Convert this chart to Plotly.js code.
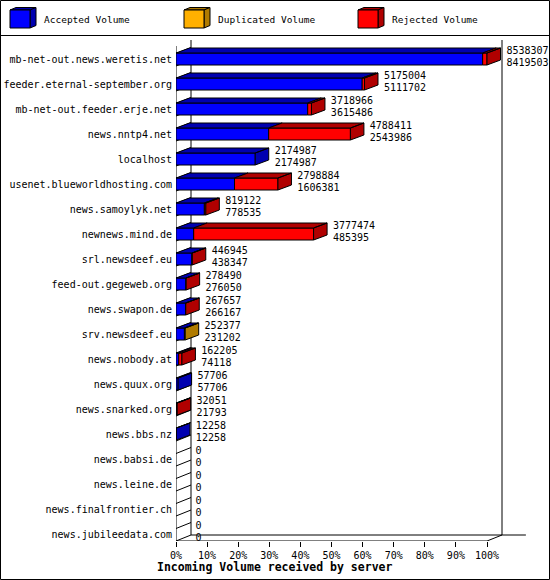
<!DOCTYPE html>
<html>
<head>
<meta charset="utf-8">
<script src="https://cdn.plot.ly/plotly-3.0.1.min.js"></script>
<style>
  body { margin: 0; padding: 0; background: #fff; }
  #chart { width: 550px; height: 580px; }
</style>
</head>
<body>
<div id="chart"></div>
<script>
// Chart data
var servers = [
  "mb-net-out.news.weretis.net", "feeder.eternal-september.org", "mb-net-out.feeder.erje.net",
  "news.nntp4.net", "localhost", "usenet.blueworldhosting.com", "news.samoylyk.net",
  "newnews.mind.de", "srl.newsdeef.eu", "feed-out.gegeweb.org", "news.swapon.de",
  "srv.newsdeef.eu", "news.nobody.at", "news.quux.org", "news.snarked.org", "news.bbs.nz",
  "news.babsi.de", "news.leine.de", "news.finalfrontier.ch", "news.jubileedata.com"
];
var accepted_data = [8419503, 5111702, 3615486, 2543986, 2174987, 1606381, 778535, 485395,
  438347, 276050, 266167, 231202, 74118, 57706, 21793, 12258, 0, 0, 0, 0];
var duplicated_data = [0, 0, 0, 0, 0, 0, 0, 0, 0, 0, 0, 21175, 0, 0, 0, 0, 0, 0, 0, 0];
var rejected_data = [118804, 63302, 103480, 2244425, 0, 1192503, 40587, 3292079,
  8598, 2440, 1490, 0, 88087, 0, 10258, 0, 0, 0, 0, 0];
var series_names = ["Accepted Volume", "Duplicated Volume", "Rejected Volume"];
var series_colors = ["#0000ff", "#ffb000", "#ff0000"];
var series_dark = ["#0000b0", "#b07b00", "#b00000"];
var x_ticks = [0, 10, 20, 30, 40, 50, 60, 70, 80, 90, 100];

// Page geometry (pixels)
var ML = 176, MT = 36, PW = 370, PH = 505;
var X_PX = 3.11;       // pixels per percent
var Y_PX = 25;         // pixels per category
var BAR_DX = 13.5 / X_PX, BAR_DY = 5 / Y_PX;
var WALL_DX = 15 / X_PX, WALL_DY = 6 / Y_PX;
var HALF = 0.24;
var FLOOR = 19.28;

function px(x) { return (x - ML) / PW; }
function py(y) { return 1 - (y - MT) / PH; }

var series = [accepted_data, duplicated_data, rejected_data];
var totals = servers.map((s, i) => accepted_data[i] + duplicated_data[i] + rejected_data[i]);
var maxTotal = Math.max.apply(null, totals);
var yIdx = servers.map((s, i) => i);

var traces = [];

// front faces (bars)
var bases = servers.map(() => 0);
series.forEach((arr, k) => {
  var xs = [], b = [];
  arr.forEach((v, i) => {
    var p = v / maxTotal * 100;
    xs.push(v > 0 ? p : null);
    b.push(bases[i]);
  });
  traces.push({
    type: "bar", orientation: "h", y: yIdx, x: xs, base: b, width: 2 * HALF,
    marker: { color: series_colors[k], line: { color: "#000", width: 1 } },
    showlegend: false, hoverinfo: "skip"
  });
  arr.forEach((v, i) => { bases[i] += v / maxTotal * 100; });
});

// top faces and side faces
series.forEach((arr, k) => {
  var tx = [], ty = [];
  var start = servers.map((s, i) => {
    var acc = 0;
    for (var j = 0; j < k; j++) acc += series[j][i];
    return acc / maxTotal * 100;
  });
  arr.forEach((v, i) => {
    if (v <= 0) return;
    var x0 = start[i], x1 = start[i] + v / maxTotal * 100, c = i;
    tx.push(x0, x1, x1 + BAR_DX, x0 + BAR_DX, x0, null);
    ty.push(c - HALF, c - HALF, c - HALF - BAR_DY, c - HALF - BAR_DY, c - HALF, null);
    // side face if last non-zero segment
    var last = true;
    for (var j = k + 1; j < series.length; j++) if (series[j][i] > 0) last = false;
    if (last) {
      tx.push(x1, x1 + BAR_DX, x1 + BAR_DX, x1, x1, null);
      ty.push(c - HALF, c - HALF - BAR_DY, c + HALF - BAR_DY, c + HALF, c - HALF, null);
    }
  });
  traces.push({
    type: "scatter", mode: "lines", x: tx, y: ty, fill: "toself",
    fillcolor: series_dark[k], line: { color: "#000", width: 1 },
    showlegend: false, hoverinfo: "skip"
  });
});

// value labels
var lx = [], ly = [], lt = [];
servers.forEach((s, i) => {
  var xe = totals[i] / maxTotal * 100 + BAR_DX + 1.9;
  lx.push(xe, xe);
  ly.push(i - 0.32, i + 0.16);
  lt.push(String(totals[i]), String(accepted_data[i]));
});
traces.push({
  type: "scatter", mode: "text", x: lx, y: ly, text: lt, textposition: "middle right",
  textfont: { family: "DejaVu Sans Mono", size: 10, color: "#000" },
  cliponaxis: false, showlegend: false, hoverinfo: "skip"
});

// 3D frame
var shapes = [];
function seg(x0, y0, x1, y1) {
  shapes.push({ type: "line", xref: "x", yref: "y", x0: x0, y0: y0, x1: x1, y1: y1,
    layer: "below", line: { color: "#000", width: 1 } });
}
for (var k = 0; k < 40; k++) {
  seg(0, FLOOR - 0.5 * k, WALL_DX, FLOOR - WALL_DY - 0.5 * k);
}
seg(0, FLOOR, 0, -0.52);
seg(WALL_DX, FLOOR - WALL_DY, WALL_DX, -0.76);
seg(100 + WALL_DX, FLOOR - WALL_DY, 100 + WALL_DX, -0.76);
seg(WALL_DX, FLOOR - WALL_DY, 112.5, FLOOR - WALL_DY);
seg(0, FLOOR, 100, FLOOR);
seg(100, FLOOR, 100 + WALL_DX, FLOOR - WALL_DY);

// outer border and legend box
function ppath(pts) {
  return "M " + pts.map(p => px(p[0]) + "," + py(p[1])).join(" L ") + " Z";
}
shapes.push({ type: "path", xref: "paper", yref: "paper",
  path: ppath([[0.5, 0.5], [549.5, 0.5], [549.5, 579.5], [0.5, 579.5]]),
  line: { color: "#000", width: 1 } });
shapes.push({ type: "line", xref: "paper", yref: "paper",
  x0: px(0), y0: py(35.5), x1: px(550), y1: py(35.5), line: { color: "#000", width: 1 } });

var annotations = [];
series_names.forEach((name, k) => {
  var x0 = 10 + 174 * k;
  shapes.push({ type: "path", xref: "paper", yref: "paper",
    path: ppath([[x0, 10], [x0 + 20, 10], [x0 + 26, 7.5], [x0 + 6, 7.5]]),
    fillcolor: series_dark[k], line: { color: "#000", width: 1 } });
  shapes.push({ type: "path", xref: "paper", yref: "paper",
    path: ppath([[x0 + 20, 10], [x0 + 26, 7.5], [x0 + 26, 25.5], [x0 + 20, 28]]),
    fillcolor: series_dark[k], line: { color: "#000", width: 1 } });
  shapes.push({ type: "path", xref: "paper", yref: "paper",
    path: ppath([[x0, 10], [x0 + 20, 10], [x0 + 20, 28], [x0, 28]]),
    fillcolor: series_colors[k], line: { color: "#000", width: 1 } });
  annotations.push({ xref: "paper", yref: "paper", x: px(x0 + 32), y: py(20),
    xanchor: "left", yanchor: "middle", showarrow: false, text: name,
    font: { family: "DejaVu Sans Mono", size: 9.5, color: "#000" } });
});
annotations.push({ xref: "paper", yref: "paper", x: px(274), y: py(567),
  xanchor: "center", yanchor: "middle", showarrow: false,
  text: "<b>Incoming Volume received by server</b>",
  font: { family: "DejaVu Sans Mono", size: 11.5, color: "#000" } });

var layout = {
  width: 550, height: 580,
  margin: { l: ML, r: 550 - ML - PW, t: MT, b: 580 - MT - PH, pad: 0 },
  paper_bgcolor: "#fff", plot_bgcolor: "#fff",
  showlegend: false, hovermode: false, barmode: "overlay",
  font: { family: "DejaVu Sans Mono", size: 10, color: "#000" },
  xaxis: {
    range: [0, PW / X_PX], tickvals: x_ticks, ticktext: x_ticks.map(t => t + "%"),
    ticks: "outside", ticklen: 5, tickcolor: "#000", showgrid: false, zeroline: false,
    showline: false, fixedrange: true
  },
  yaxis: {
    range: [FLOOR, FLOOR - PH / Y_PX], tickvals: yIdx, ticktext: servers,
    ticks: "", ticklabelstandoff: 3, showgrid: false, zeroline: false, showline: false,
    fixedrange: true
  },
  shapes: shapes,
  annotations: annotations
};

Plotly.newPlot("chart", traces, layout, { displayModeBar: false, staticPlot: true });
</script>
</body>
</html>
